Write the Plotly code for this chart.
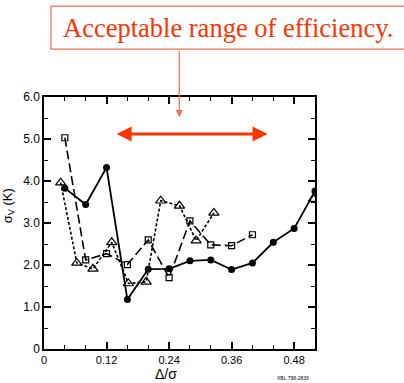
import plotly.graph_objects as go

# Data
circle_x = [0.04, 0.08, 0.12, 0.16, 0.20, 0.24, 0.28, 0.32, 0.36, 0.40, 0.44, 0.48, 0.52]
circle_y = [3.83, 3.44, 4.32, 1.18, 1.90, 1.91, 2.10, 2.12, 1.89, 2.05, 2.54, 2.87, 3.76]

square_x = [0.04, 0.08, 0.12, 0.16, 0.20, 0.24, 0.28, 0.32, 0.36, 0.40]
square_y = [5.03, 2.12, 2.27, 2.01, 2.60, 1.70, 3.05, 2.48, 2.46, 2.72]

triangle_x = [0.032, 0.063, 0.094, 0.13, 0.162, 0.196, 0.224, 0.26, 0.292, 0.326]
triangle_y = [3.96, 2.05, 1.91, 2.54, 1.56, 1.60, 3.53, 3.41, 2.58, 3.24]

lone_triangle_x = [0.517]
lone_triangle_y = [3.57]

x_tick_vals = [0, 0.12, 0.24, 0.36, 0.48]
x_tick_text = ["0", "0.12", "0.24", "0.36", "0.48"]
y_tick_vals = [0, 1, 2, 3, 4, 5, 6]
y_tick_text = ["0", "1.0", "2.0", "3.0", "4.0", "5.0", "6.0"]

RED = "#ff3300"
RED_LIGHT = "#ff6a4d"

fig = go.Figure()
fig.add_trace(go.Scatter(x=triangle_x, y=triangle_y, mode="lines+markers",
                         line=dict(color="black", width=1.6, dash="3px,2px"),
                         marker=dict(symbol="triangle-up-open", size=9, color="black",
                                     line=dict(width=1.2)),
                         showlegend=False))
fig.add_trace(go.Scatter(x=lone_triangle_x, y=lone_triangle_y, mode="markers",
                         marker=dict(symbol="triangle-up-open", size=9, color="black",
                                     line=dict(width=1.2)),
                         showlegend=False))
fig.add_trace(go.Scatter(x=square_x, y=square_y, mode="lines+markers",
                         line=dict(color="black", width=1.6, dash="9px,4px"),
                         marker=dict(symbol="square-open", size=6, color="black",
                                     line=dict(width=1.2)),
                         showlegend=False))
fig.add_trace(go.Scatter(x=circle_x, y=circle_y, mode="lines+markers",
                         line=dict(color="black", width=1.8),
                         marker=dict(symbol="circle", size=7, color="black"),
                         showlegend=False))

axis_common = dict(showline=True, linecolor="black", linewidth=1.5, mirror="ticks",
                   ticks="inside", ticklen=7, tickwidth=1.5, tickcolor="black",
                   showgrid=False, zeroline=False)

fig.update_xaxes(range=[0, 0.52], tickmode="array", tickvals=x_tick_vals, ticktext=x_tick_text,
                 tickfont=dict(family="Liberation Sans, Arial", size=11, color="black"),
                 ticklabelstandoff=0,
                 minor=dict(dtick=0.04, ticks="inside", ticklen=4, tickwidth=1.2, tickcolor="black"),
                 **axis_common)
fig.update_yaxes(range=[0, 6], tickmode="array", tickvals=y_tick_vals, ticktext=y_tick_text,
                 tickfont=dict(family="Liberation Sans, Arial", size=12, color="black"),
                 minor=dict(dtick=0.5, ticks="inside", ticklen=4, tickwidth=1.2, tickcolor="black"),
                 **axis_common)

annotations = [
    # y-axis title
    dict(text="σ<sub>V</sub> (K)", xref="paper", yref="paper", x=-0.133, y=0.57,
         textangle=-90, showarrow=False, xanchor="center", yanchor="middle",
         font=dict(family="Liberation Sans, Arial", size=13, color="black")),
    # x-axis title
    dict(text="Δ/σ", xref="paper", yref="paper", x=0.45, y=-0.134, borderpad=0,
         showarrow=False, xanchor="center", yanchor="bottom",
         font=dict(family="Liberation Sans, Arial", size=14, color="black")),
    # tiny figure code
    dict(text="XBL 798-2839", xref="paper", yref="paper", x=0.92, y=-0.115,
         showarrow=False, xanchor="center", yanchor="middle",
         font=dict(family="Liberation Sans, Arial", size=5, color="black")),
    # boxed title
    dict(text="Acceptable range of efficiency.", xref="paper", yref="paper",
         x=0.062, y=1.275, showarrow=False, xanchor="left", yanchor="middle",
         font=dict(family="Liberation Serif, Times New Roman", size=26.5, color=RED)),
    # vertical arrow from box
    dict(text="", x=0.2596, y=5.52, xref="x", yref="y", showarrow=True,
         ax=0, ay=-68, arrowhead=2, arrowsize=1.2, arrowwidth=1.2, arrowcolor=RED_LIGHT),
    # horizontal double arrow
    dict(text="", x=0.429, y=5.12, xref="x", yref="y", ax=0.1365, ay=5.12,
         axref="x", ayref="y", showarrow=True, arrowside="end+start",
         arrowhead=2, arrowsize=1, arrowwidth=3, arrowcolor=RED),
]

shapes = [
    dict(type="rect", xref="paper", yref="paper", x0=0.0258, x1=1.35, y0=1.19, y1=1.361,
         line=dict(color=RED_LIGHT, width=1.2), fillcolor="rgba(0,0,0,0)"),
]

fig.update_layout(width=404, height=383, margin=dict(l=44, r=89, t=97, b=34),
                  paper_bgcolor="white", plot_bgcolor="white",
                  annotations=annotations, shapes=shapes)

fig.write_html("out.html", config={"displayModeBar": False},
               post_script="document.body.style.margin='0';document.body.style.padding='0';")
